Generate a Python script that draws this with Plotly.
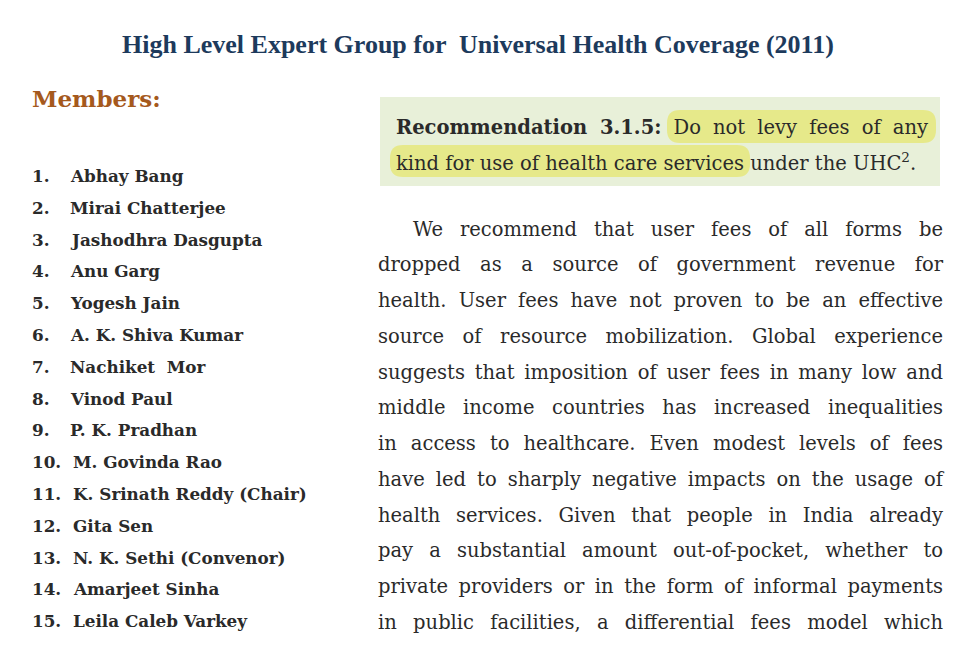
import plotly.graph_objects as go

# ---- content ----
title = "High Level Expert Group for  Universal Health Coverage (2011)"
members_header = "Members:"
members = [
    "Abhay Bang", "Mirai Chatterjee", "Jashodhra Dasgupta", "Anu Garg",
    "Yogesh Jain", "A. K. Shiva Kumar", "Nachiket  Mor", "Vinod Paul",
    "P. K. Pradhan", "M. Govinda Rao", "K. Srinath Reddy (Chair)",
    "Gita Sen", "N. K. Sethi (Convenor)", "Amarjeet Sinha", "Leila Caleb Varkey",
]
rec_label = "Recommendation 3.1.5:"
rec_line1 = "Do not levy fees of any"
rec_line2a = "kind for use of health care services"
rec_line2b = "under the UHC<sup>2</sup>."
paragraph = [
    "We recommend that user fees of all forms be",
    "dropped as a source of government revenue for",
    "health. User fees have not proven to be an effective",
    "source of resource mobilization. Global experience",
    "suggests that imposition of user fees in many low and",
    "middle income countries has increased inequalities",
    "in access to healthcare. Even modest levels of fees",
    "have led to sharply negative impacts on the usage of",
    "health services. Given that people in India already",
    "pay a substantial amount out-of-pocket, whether to",
    "private providers or in the form of informal payments",
    "in public facilities, a differential fees model which",
]

W, H = 978, 652
OFF = 8  # default page margin of the html body
TXT = "#2a2a2a"
SERIF = "DejaVu Serif"

fig = go.Figure()
fig.add_trace(go.Scatter(x=[OFF, W], y=[OFF, H], mode="markers",
                         marker=dict(opacity=0), hoverinfo="skip", showlegend=False))

anns = []
shapes = []


def txt(x, y, s, size, color=TXT, family=SERIF, anchor="left"):
    anns.append(dict(x=x, y=y, xref="x", yref="y", text=s, showarrow=False,
                     xanchor=anchor, yanchor="middle", align="left",
                     font=dict(family=family, size=size, color=color)))


def pill(x0, x1, y0, y1, r, color):
    path = (f"M {x0+r},{y0} L {x1-r},{y0} Q {x1},{y0} {x1},{y0+r} "
            f"L {x1},{y1-r} Q {x1},{y1} {x1-r},{y1} L {x0+r},{y1} "
            f"Q {x0},{y1} {x0},{y1-r} L {x0},{y0+r} Q {x0},{y0} {x0+r},{y0} Z")
    shapes.append(dict(type="path", path=path, xref="x", yref="y",
                       fillcolor=color, line=dict(width=0), layer="below"))


# title
txt(478, 44, "<b>" + title + "</b>", 26, color="#1d3a5c",
    family="Liberation Serif", anchor="center")

# members
txt(30, 98, "<b>" + members_header + "</b>", 23, color="#a5591d")
for i, name in enumerate(members):
    y = 176 + i * 31.8
    txt(30, y, f"<b>{i+1}.</b>", 16.8)
    txt(68 if i < 9 else 71, y, "<b>" + name + "</b>", 16.8)

# recommendation box
shapes.append(dict(type="rect", x0=380, x1=940, y0=97, y1=186, xref="x", yref="y",
                   fillcolor="#e8f0d9", line=dict(width=0), layer="below"))
pill(667, 936, 110, 143, 13, "#e6e98a")
pill(390, 750, 145, 177, 13, "#e6e98a")
txt(394, 127, "<b>" + rec_label + "</b> " + rec_line1, 19.5)
txt(394, 162, rec_line2a + " " + rec_line2b, 19.5)

# paragraph
for i, line in enumerate(paragraph):
    txt(411 if i == 0 else 376, 229 + i * 35.75, line, 19.5)

fig.update_layout(
    width=W - OFF, height=H - OFF, margin=dict(l=0, r=0, t=0, b=0),
    paper_bgcolor="white", plot_bgcolor="white",
    xaxis=dict(range=[OFF, W], visible=False, fixedrange=True),
    yaxis=dict(range=[H, OFF], visible=False, fixedrange=True),
    annotations=anns, shapes=shapes,
)

# justify the body lines (and first recommendation line) to their column edges
n_before = 1 + 1 + 2 * len(members)
rec_idx = n_before
para_idx = n_before + 2
js = """
var gd = document.getElementById('{plot_id}');
var t = gd.querySelectorAll('.annotation-text');
function just(i, w) {
  var el = t[i]; if (!el) return;
  var s = (el.textContent.match(/ /g) || []).length;
  var len = el.getComputedTextLength();
  el.style.wordSpacing = ((w - len) / s) + 'px';
}
just(%d, 532);
for (var k = 0; k < %d; k++) { just(%d + k, k == 0 ? 530 : 565); }
""" % (rec_idx, len(paragraph), para_idx)

fig.write_html("out.html", post_script=js)
